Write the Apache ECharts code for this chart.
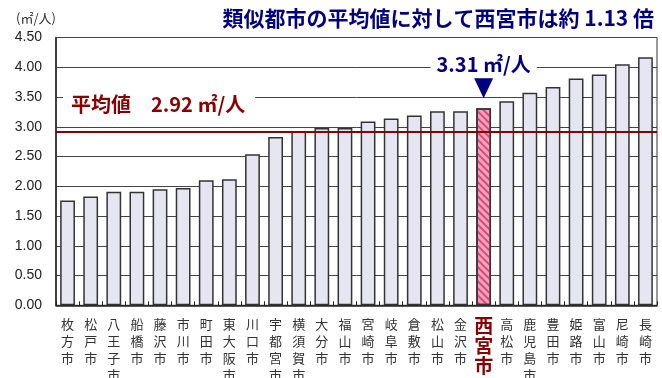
<!DOCTYPE html>
<html>
<head>
<meta charset="utf-8">
<script src="https://cdn.jsdelivr.net/npm/echarts@6/dist/echarts.min.js"></script>
<style>
html,body{margin:0;padding:0;background:#fff;}
#c{width:662px;height:378px;}
</style>
</head>
<body>
<div id="c"></div>
<script>
const categories = ['枚方市','松戸市','八王子市','船橋市','藤沢市','市川市','町田市','東大阪市','川口市','宇都宮市','横須賀市','大分市','福山市','宮崎市','岐阜市','倉敷市','松山市','金沢市','西宮市','高松市','鹿児島市','豊田市','姫路市','富山市','尼崎市','長崎市'];
const values = [1.76,1.83,1.91,1.91,1.95,1.97,2.10,2.12,2.54,2.83,2.93,2.98,2.98,3.09,3.14,3.19,3.26,3.26,3.31,3.43,3.57,3.67,3.81,3.88,4.05,4.17];
const averageValue = 2.92;
const highlightCity = '西宮市';
const highlightValue = 3.31;
const yTicks = ['0.00','0.50','1.00','1.50','2.00','2.50','3.00','3.50','4.00','4.50'];
const titleText = '類似都市の平均値に対して西宮市は約 1.13 倍';
const unitText = '(㎡/人)';
const avgLabelText = '平均値　2.92 ㎡/人';
const highlightLabelText = '3.31 ㎡/人';

const CJK = '"Noto Sans CJK JP", "Liberation Sans", sans-serif';
const chart = echarts.init(document.getElementById('c'), null, {renderer:'canvas'});

const barData = values.map((v, i) => {
  if (categories[i] === highlightCity) {
    return {
      value: v,
      itemStyle: {
        color: '#f4a3bd',
        borderColor: '#333',
        borderWidth: 1.5,
        decal: {
          symbol: 'rect',
          color: '#d94a78',
          dashArrayX: [1, 0],
          dashArrayY: [2, 3],
          rotation: Math.PI / 4
        }
      }
    };
  }
  return v;
});

chart.setOption({
  animation: false,
  backgroundColor: '#fff',
  title: {
    text: titleText,
    right: 3,
    top: 3,
    textStyle: {fontFamily: CJK, fontSize: 21, fontWeight: 'bold', color: '#000080'}
  },
  grid: {left: 56, right: 5, top: 37.5, bottom: 72.7, show: true, borderColor: '#333', borderWidth: 1, outerBoundsMode: 'none', containLabel: false},
  xAxis: {
    type: 'category',
    data: categories,
    axisLine: {lineStyle: {color: '#222', width: 1.5}},
    axisTick: {show: true, inside: true, length: 4, alignWithLabel: false, lineStyle: {color: '#222'}},
    axisLabel: {
      interval: 0,
      margin: 10,
      formatter: function (v) {
        const s = v.split('').join('\n');
        return v === highlightCity ? '{hl|' + s + '}' : '{n|' + s + '}';
      },
      rich: {
        n: {fontFamily: CJK, fontSize: 13, lineHeight: 17, color: '#333'},
        hl: {fontFamily: CJK, fontSize: 19, lineHeight: 20, fontWeight: 'bold', color: '#8b0000'}
      },
      verticalAlign: 'top'
    }
  },
  yAxis: {
    type: 'value',
    min: 0,
    max: 4.5,
    interval: 0.5,
    axisLine: {show: true, lineStyle: {color: '#222', width: 1.5}},
    axisTick: {show: false},
    axisLabel: {
      margin: 14,
      fontFamily: '"Liberation Sans", Arial, sans-serif',
      fontSize: 14,
      color: '#222',
      formatter: function (v) { return yTicks[Math.round(v / 0.5)]; }
    },
    splitLine: {show: true, lineStyle: {color: '#444', width: 1}}
  },
  series: [{
    type: 'bar',
    data: barData,
    barWidth: '64%',
    itemStyle: {color: '#e6e6f3', borderColor: '#333', borderWidth: 1.5},
    markLine: {
      silent: true,
      symbol: ['none', 'none'],
      lineStyle: {color: '#8b0000', width: 2, type: 'solid'},
      label: {show: false},
      data: [{yAxis: averageValue}]
    },
    markPoint: {
      silent: true,
      symbol: 'path://M0,0 L20,0 L10,19 Z',
      symbolSize: [19, 20],
      symbolOffset: [0, -20],
      itemStyle: {color: '#000080'},
      label: {
        show: true,
        position: 'top',
        distance: 4,
        formatter: highlightLabelText,
        fontFamily: CJK,
        fontSize: 20,
        fontWeight: 'bold',
        color: '#000080',
        backgroundColor: '#fff',
        padding: [2, 6, 0, 6]
      },
      data: [{coord: [highlightCity, highlightValue]}]
    }
  }],
  graphic: [
    {
      type: 'text',
      left: 16,
      top: 12,
      style: {text: unitText, fontFamily: CJK, fontSize: 13, fill: '#333'}
    },
    {
      type: 'text',
      left: 63,
      top: 94,
      z: 10,
      style: {
        text: avgLabelText,
        fontFamily: CJK,
        fontSize: 20,
        fontWeight: 'bold',
        fill: '#8b0000',
        backgroundColor: '#fff',
        padding: [0, 10, 0, 8]
      }
    }
  ]
});
</script>
</body>
</html>
